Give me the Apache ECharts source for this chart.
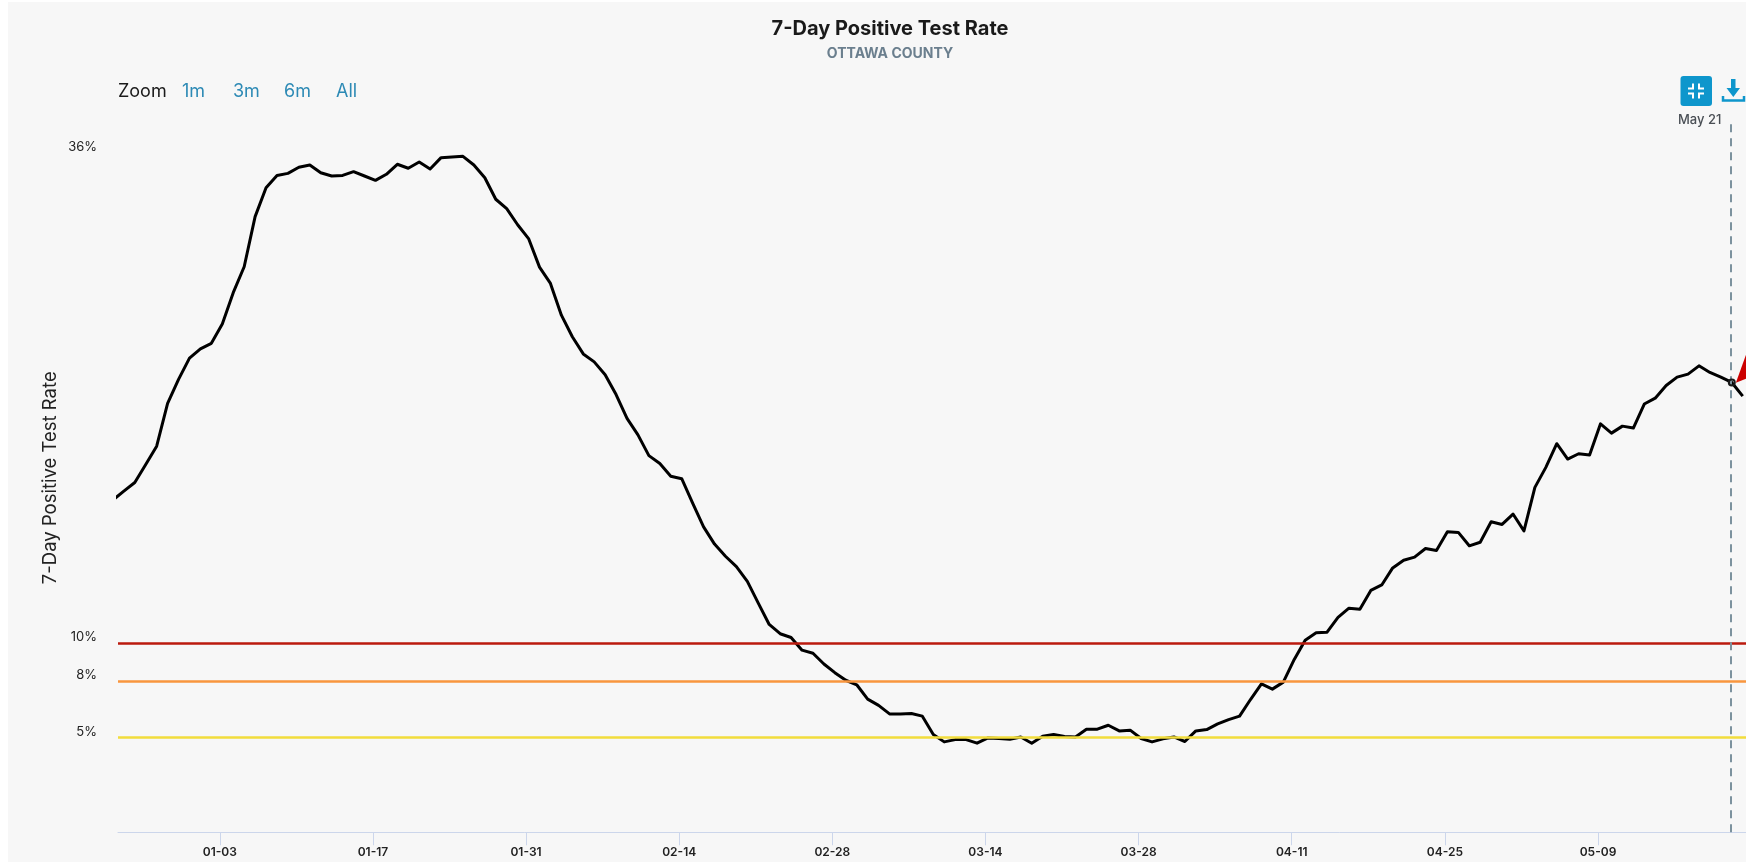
<!DOCTYPE html>
<html>
<head>
<meta charset="utf-8">
<title>7-Day Positive Test Rate</title>
<script src="https://cdn.jsdelivr.net/npm/echarts@6/dist/echarts.min.js"></script>
<style>
  html, body { margin: 0; padding: 0; background: #ffffff; }
  #chart { width: 1746px; height: 862px; }
</style>
</head>
<body>
<div id="chart"></div>
<script>
  // 每日一个点，从 2020-12-24 到 2021-05-22
  var startDate = [2020, 11, 24]
  var rates = [
    17.57, 18.04, 18.50, 19.45, 20.42, 22.68, 23.95, 25.08, 25.57, 25.86,
    26.88, 28.54, 29.91, 32.56, 34.09, 34.74, 34.85, 35.17, 35.29, 34.88,
    34.71, 34.74, 34.94, 34.71, 34.48, 34.80, 35.33, 35.12, 35.45, 35.08,
    35.68, 35.71, 35.75, 35.29, 34.62, 33.48, 32.98, 32.13, 31.40, 29.89,
    29.03, 27.35, 26.21, 25.30, 24.88, 24.20, 23.15, 21.89, 21.02, 19.92,
    19.50, 18.83, 18.70, 17.41, 16.15, 15.24, 14.60, 14.05, 13.27, 12.12,
    10.99, 10.50, 10.30, 9.63, 9.47, 8.90, 8.44, 8.04, 7.80, 7.04,
    6.71, 6.26, 6.26, 6.28, 6.14, 5.17, 4.78, 4.90, 4.90, 4.71,
    4.99, 4.96, 4.92, 5.04, 4.71, 5.08, 5.17, 5.06, 5.04, 5.45,
    5.45, 5.66, 5.36, 5.40, 4.96, 4.78, 4.94, 5.04, 4.80, 5.36,
    5.43, 5.73, 5.96, 6.14, 7.02, 7.85, 7.57, 7.94, 9.14, 10.16,
    10.55, 10.58, 11.36, 11.85, 11.80, 12.79, 13.08, 13.98, 14.39, 14.55,
    15.01, 14.90, 15.89, 15.86, 15.15, 15.34, 16.42, 16.28, 16.83, 15.94,
    18.24, 19.30, 20.55, 19.74, 20.02, 19.95, 21.60, 21.11, 21.48, 21.38,
    22.65, 22.96, 23.63, 24.07, 24.23, 24.67, 24.32, 24.07, 23.79, 23.07
  ]
  var tickDates = [
    [0, 3], [0, 17], [0, 31], [1, 14], [1, 28], [2, 14], [2, 28], [3, 11], [3, 25], [4, 9]
  ]
  var yTicks = [5, 8, 10, 35.9] // 最上面的刻度不是整数，显示时取整为 36%
  var thresholds = [
    { value: 10, color: '#bb1a0e' },
    { value: 8, color: '#f9963e' },
    { value: 5, color: '#f2dd3c' }
  ]
  var rangeButtons = [
    { text: '1m', left: 182 },
    { text: '3m', left: 233 },
    { text: '6m', left: 284 },
    { text: 'All', left: 336 }
  ]

  var DAY = 86400000
  var FONT = 'Inter, "Noto Sans", sans-serif'
  var base = Date.UTC(2021, 0, 3)
  var first = Date.UTC(startDate[0], startDate[1], startDate[2])

  // x 轴用距 01-03 的天数，这样刻度可以自己指定
  function toDay(ms) {
    return (ms - base) / DAY
  }
  var seriesData = rates.map(function(v, i) {
    return [toDay(first + i * DAY) + 0.23, v] // 点比刻度略靠右
  })
  var ticks = tickDates.map(function(d) {
    return toDay(Date.UTC(2021, d[0], d[1]))
  })
  var currentPoint = seriesData[seriesData.length - 2] // May 21

  function pad(n) {
    return n < 10 ? '0' + n : '' + n
  }

  var chart = echarts.init(document.getElementById('chart'))
  chart.setOption({
    animation: false,
    backgroundColor: '#ffffff',
    title: {
      left: 885,
      top: 14,
      textAlign: 'center',
      text: '7-Day Positive Test Rate',
      subtext: 'OTTAWA COUNTY',
      itemGap: 8,
      textStyle: { fontFamily: FONT, fontSize: 20, fontWeight: 700, color: '#1a1a1a' },
      subtextStyle: { fontFamily: FONT, fontSize: 14, fontWeight: 700, color: '#6b7f8e' }
    },
    grid: { left: 118, right: 0, top: 123.25, bottom: 29.75 },
    xAxis: {
      type: 'value',
      min: -9.305,
      max: 139.53,
      axisLine: { onZero: false, lineStyle: { color: '#ccd6eb', width: 1 } },
      axisTick: { customValues: ticks, length: 13, lineStyle: { color: '#ccd6eb', width: 1 } },
      axisLabel: {
        customValues: ticks,
        margin: 14,
        fontFamily: FONT,
        fontSize: 12,
        fontWeight: 600,
        color: '#222222',
        formatter: function(value) {
          var d = new Date(base + value * DAY)
          return pad(d.getUTCMonth() + 1) + '-' + pad(d.getUTCDate())
        }
      },
      splitLine: { show: false }
    },
    yAxis: {
      type: 'value',
      min: 0,
      max: 37.5,
      name: '7-Day Positive Test Rate',
      nameLocation: 'middle',
      nameGap: 58,
      nameMoveOverlap: false,
      nameTextStyle: { fontFamily: FONT, fontSize: 18.5, color: '#222222' },
      axisLine: { show: false },
      axisTick: { show: false },
      splitLine: { show: false },
      axisLabel: {
        customValues: yTicks,
        margin: 21,
        verticalAlign: 'bottom',
        lineHeight: 12,
        fontFamily: FONT,
        fontSize: 13,
        color: '#222222',
        formatter: function(value) {
          return Math.round(value) + '%'
        }
      }
    },
    series: [
      {
        name: '7-Day Positive Test Rate',
        type: 'line',
        data: seriesData,
        showSymbol: false,
        symbol: 'none',
        clip: true,
        lineStyle: { color: '#000000', width: 3, join: 'round' },
        markLine: {
          silent: true,
          symbol: 'none',
          label: { show: false },
          data: thresholds.map(function(t) {
            return { yAxis: t.value, lineStyle: { color: t.color, width: 2.5, type: 'solid' } }
          }).concat([
            { xAxis: currentPoint[0] - 0.1, lineStyle: { color: '#7c929e', width: 2, type: [8, 6] } }
          ])
        },
        markPoint: {
          silent: true,
          label: { show: false },
          data: [
            {
              coord: currentPoint,
              symbol: 'circle',
              symbolSize: 6,
              itemStyle: { color: 'rgba(0,0,0,0)', borderColor: '#1a1a1a', borderWidth: 2 }
            },
            {
              coord: currentPoint,
              symbol: 'triangle',
              symbolSize: [36, 40],
              symbolRotate: 136,
              symbolOffset: [18, -14],
              itemStyle: { color: '#cc0000' }
            }
          ]
        }
      }
    ],
    graphic: [
      {
        type: 'rect',
        silent: true,
        z: -10,
        shape: { x: 8, y: 2, width: 1738, height: 860 },
        style: { fill: '#f7f7f7' }
      },
      {
        type: 'text',
        left: 118,
        top: 83,
        style: { text: 'Zoom', fontFamily: FONT, fontSize: 18, fill: '#1a1a1a' }
      }
    ].concat(rangeButtons.map(function(b) {
      return {
        type: 'text',
        left: b.left,
        top: 83,
        style: { text: b.text, fontFamily: FONT, fontSize: 18, fill: '#2d8ab5' }
      }
    })).concat([
      {
        type: 'rect',
        shape: { x: 1680.5, y: 76, width: 31.5, height: 30, r: 3 },
        style: { fill: '#0e96cc' }
      },
      {
        type: 'polyline',
        shape: { points: [[1693, 83.5], [1693, 88.5], [1688, 88.5]] },
        style: { stroke: '#ffffff', lineWidth: 2, fill: null }
      },
      {
        type: 'polyline',
        shape: { points: [[1699, 83.5], [1699, 88.5], [1704, 88.5]] },
        style: { stroke: '#ffffff', lineWidth: 2, fill: null }
      },
      {
        type: 'polyline',
        shape: { points: [[1688, 93.5], [1693, 93.5], [1693, 98.5]] },
        style: { stroke: '#ffffff', lineWidth: 2, fill: null }
      },
      {
        type: 'polyline',
        shape: { points: [[1704, 93.5], [1699, 93.5], [1699, 98.5]] },
        style: { stroke: '#ffffff', lineWidth: 2, fill: null }
      },
      {
        type: 'polygon',
        shape: { points: [[1731, 79], [1735.5, 79], [1735.5, 88], [1740, 88], [1733.3, 97], [1726.5, 88], [1731, 88]] },
        style: { fill: '#0e96cc' }
      },
      {
        type: 'polyline',
        shape: { points: [[1723, 96], [1723, 100.5], [1744, 100.5], [1744, 96]] },
        style: { stroke: '#0e96cc', lineWidth: 2.5, fill: null }
      },
      {
        type: 'text',
        left: 1678,
        top: 114,
        style: { text: 'May 21', fontFamily: FONT, fontSize: 13, fontWeight: 500, fill: '#4a4f55' }
      }
    ])
  })
</script>
</body>
</html>
